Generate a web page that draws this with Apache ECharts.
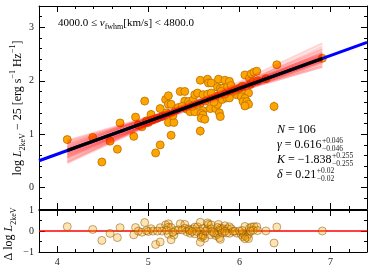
<!DOCTYPE html>
<html><head><meta charset="utf-8">
<script src="https://cdn.jsdelivr.net/npm/echarts@6/dist/echarts.min.js"></script>
<style>html,body{margin:0;padding:0;background:#fff}#c{width:374px;height:271px}</style>
</head><body><div id="c"></div>
<script>
// ---- data ----
const X_VALUES = [4.11,4.39,4.49,4.58,4.66,4.69,4.84,4.86,4.89,4.93,4.96,5.00,5.03,5.05,5.08,5.13,5.13,5.15,5.19,5.22,5.22,5.25,5.22,5.28,5.25,5.20,5.35,5.40,5.40,5.44,5.49,5.42,5.46,5.51,5.51,5.54,5.60,5.65,5.57,5.65,5.66,5.69,5.57,5.60,5.58,5.60,5.58,5.62,5.57,5.68,5.69,5.74,5.76,5.77,5.78,5.79,5.77,5.76,5.79,5.82,5.80,5.84,5.87,5.89,5.91,5.81,5.86,5.89,5.97,6.04,6.10,6.02,6.06,6.04,6.08,6.10,6.06,6.06,6.11,6.13,6.16,6.19,6.41,6.38,6.29,6.91,5.30,5.33,5.37,5.45,5.53,5.63,5.70,5.72,5.84,5.93,5.95,6.00,6.03,6.12,6.15,6.20,5.48,5.27,4.98,5.10];
const Y_VALUES = [0.90,0.94,0.48,0.87,0.72,1.21,0.96,1.32,1.17,1.14,1.62,1.22,1.37,1.27,0.65,0.80,1.48,1.33,1.65,1.72,1.56,1.56,1.22,1.22,0.98,1.40,1.80,1.80,1.62,1.61,1.64,1.47,1.42,1.42,1.74,1.77,1.74,1.75,2.01,2.03,1.96,1.96,1.58,1.44,1.39,1.36,1.30,1.28,1.06,1.48,1.77,1.48,1.56,1.72,1.40,1.33,2.03,1.88,1.86,1.86,1.80,2.01,1.89,1.99,1.91,1.65,1.68,1.68,1.74,1.77,1.77,1.70,1.67,1.61,1.61,1.56,1.53,2.11,2.05,2.13,2.16,2.18,2.30,1.52,2.04,2.42,1.45,1.50,1.52,1.55,1.55,1.62,1.65,1.60,1.75,1.80,1.82,1.86,1.90,1.93,1.98,2.00,1.52,1.35,1.25,1.30];
const Y_ERRORS = [0.03,0.03,0.03,0.03,0.03,0.03,0.03,0.03,0.03,0.03,
 0.03,0.03,0.03,0.03,0.03,0.04,0.05,0.03,0.03,0.03,
 0.03,0.04,0.03,0.03,0.03,0.03,0.03,0.03,0.03,0.03,
 0.03,0.03,0.03,0.03,0.03,0.03,0.03,0.03,0.03,0.03,
 0.03,0.03,0.03,0.04,0.03,0.03,0.06,0.03,0.09,0.03,
 0.03,0.03,0.03,0.03,0.06,0.05,0.03,0.03,0.03,0.03,
 0.03,0.03,0.03,0.03,0.03,0.03,0.03,0.03,0.03,0.03,
 0.03,0.03,0.03,0.03,0.03,0.05,0.03,0.03,0.03,0.03,
 0.03,0.03,0.03,0.09,0.03,0.03,0.03,0.03,0.03,0.03,
 0.03,0.03,0.03,0.03,0.03,0.03,0.03,0.03,0.03,0.03,
 0.03,0.03,0.03,0.03,0.03,0.03];
const GAMMA = 0.616, K_FIT = -1.838;
// posterior sample lines: y at the data x-range start and end
const SAMPLE_Y_START = [0.69,0.66,0.72,0.62,0.76,0.58,0.80,0.64,0.74,0.55,0.83,0.68,0.70,0.60,0.78,0.50,0.86,0.66,0.72,0.57,0.81,0.46,0.63,0.75,0.53,0.88,0.48,0.67,0.71,0.59];
const SAMPLE_Y_END   = [2.42,2.45,2.39,2.48,2.36,2.52,2.33,2.40,2.44,2.55,2.30,2.47,2.37,2.43,2.41,2.60,2.27,2.50,2.34,2.47,2.38,2.64,2.36,2.49,2.53,2.26,2.70,2.44,2.40,2.58];
const STAT_LABELS = ['N','\u03b3','K','\u03b4'];
const STAT_VALUES = ['106','0.616','\u22121.838','0.21'];
const STAT_UP = [null,'+0.046','+0.255','+0.02'];
const STAT_DN = [null,'\u22120.046','\u22120.255','\u22120.02'];
const X_TICKS = [4,5,6,7];
const Y_TICKS = [0,1,2,3];
const R_TICKS = [-1,0,1];
const X_MIN = 3.8, X_MAX = 7.4, Y_MIN = -0.4, Y_MAX = 3.4, R_MIN = -1, R_MAX = 1;

// ---- derived ----
const pts = X_VALUES.map((x,i)=>[x, Y_VALUES[i], Y_ERRORS[i]]);
const resid = X_VALUES.map((x,i)=>[x, Y_VALUES[i] - (GAMMA*x + K_FIT)]);
const xLo = Math.min(...X_VALUES), xHi = Math.max(...X_VALUES);
const fitAt = x => GAMMA*x + K_FIT;

const SERIF = 'Liberation Serif';
const fmt = v => String(v).replace('-', '\u2212');

function mkX(grid, pos, major, labels){
  return {type:'value', gridIndex:grid, position:pos, min:X_MIN, max:X_MAX,
    interval: major ? undefined : 0.2,
    axisLine:{show:major, onZero:false, lineStyle:{color:'#000', width:1}},
    axisTick:{show:true, inside:true, length: major?6:3, lineStyle:{color:'#000', width:1},
      customValues: major ? X_TICKS : undefined},
    axisLabel:{show:labels, customValues: labels ? X_TICKS : undefined, formatter:fmt,
      fontFamily:SERIF, fontSize:10, color:'#222', margin:5},
    splitLine:{show:false}, minorTick:{show:false}};
}
function mkY(grid, pos, major, labels, lo, hi, ticks, minorInt){
  return {type:'value', gridIndex:grid, position:pos, min:lo, max:hi,
    interval: major ? undefined : minorInt,
    axisLine:{show:major, onZero:false, lineStyle:{color:'#000', width:1}},
    axisTick:{show:true, inside:true, length: major?6:3, lineStyle:{color:'#000', width:1},
      customValues: major ? ticks : undefined},
    axisLabel:{show:labels, customValues: labels ? ticks : undefined, formatter:fmt,
      fontFamily:SERIF, fontSize:10, color:'#222', margin:5},
    splitLine:{show:false}};
}

const series = [];
series.push({type:'custom', xAxisIndex:0, yAxisIndex:0, z:2, silent:true,
  data: pts,
  renderItem:(params, api)=>{
    const x=api.value(0), y=api.value(1), e=api.value(2);
    const a=api.coord([x,y-e]), b=api.coord([x,y+e]);
    return {type:'line', shape:{x1:a[0],y1:a[1],x2:b[0],y2:b[1]}, style:{stroke:'#ffa500', lineWidth:1.2}};
  }});
series.push({type:'scatter', xAxisIndex:0, yAxisIndex:0, z:3, symbolSize:8, data: pts.map(p=>[p[0],p[1]]),
  itemStyle:{color:'#ffa500', borderColor:'#b86e00', borderWidth:0.8, opacity:1}});
SAMPLE_Y_START.forEach((ys,i)=>{
  series.push({type:'line', xAxisIndex:0, yAxisIndex:0, z:4, showSymbol:false, silent:true,
    data:[[xLo, ys],[xHi, SAMPLE_Y_END[i]]],
    lineStyle:{color:'rgba(255,0,0,0.17)', width:2.2}});
});
series.push({type:'line', xAxisIndex:0, yAxisIndex:0, z:5, showSymbol:false, silent:true,
  data:[[X_MIN, fitAt(X_MIN)],[X_MAX, fitAt(X_MAX)]], lineStyle:{color:'#0000ff', width:3}});
series.push({type:'line', xAxisIndex:0, yAxisIndex:0, z:6, showSymbol:false, silent:true,
  data:[[xLo, fitAt(xLo)],[xHi, fitAt(xHi)]], lineStyle:{color:'#000', width:3.2}});
series.push({type:'line', xAxisIndex:4, yAxisIndex:4, z:3, showSymbol:false, silent:true,
  data:[[X_MIN,0],[X_MAX,0]], lineStyle:{color:'#ff0000', width:1.5}});
series.push({type:'scatter', xAxisIndex:4, yAxisIndex:4, z:4, symbolSize:8, data:resid,
  itemStyle:{color:'rgba(255,165,0,0.38)', borderColor:'rgba(120,75,0,0.75)', borderWidth:0.8}});

const tf = 11;
const rn = {fontFamily:SERIF, fontSize:tf, lineHeight:15, color:'#222'};
const ri = {fontFamily:SERIF, fontSize:tf, lineHeight:15, fontStyle:'italic', color:'#222'};
const rs = {fontFamily:SERIF, fontSize:8, lineHeight:9, verticalAlign:'bottom', color:'#222'};

const yl = 12;
const yn = {fontFamily:SERIF, fontSize:yl, lineHeight:18, color:'#222'};
const yi = {fontFamily:SERIF, fontSize:yl, lineHeight:18, fontStyle:'italic', color:'#222'};
const ys = {fontFamily:SERIF, fontSize:8, lineHeight:10, verticalAlign:'bottom', color:'#222'};
const yp = {fontFamily:SERIF, fontSize:8, lineHeight:10, verticalAlign:'top', color:'#222'};

const SF = 12;
const sn = {fontFamily:SERIF, fontSize:SF, color:'#222'};
const si = {fontFamily:SERIF, fontSize:SF, fontStyle:'italic', color:'#222'};
const mctx = document.createElement('canvas').getContext('2d');
function tw(t, italic){ mctx.font = (italic?'italic ':'') + SF + 'px "' + SERIF + '"'; return mctx.measureText(t).width; }

const statG = [];
STAT_LABELS.forEach((lab,i)=>{
  const y = 130 + 15*i;
  statG.push({type:'text', x:277, y:y, style:{text:'{i|'+lab+'}{n| = '+STAT_VALUES[i]+'}', rich:{i:si, n:sn}, verticalAlign:'middle'}});
  if (STAT_UP[i]) {
    const x = 277 + tw(lab,true) + tw(' = '+STAT_VALUES[i],false) + 0.5;
    statG.push({type:'text', x:x, y:y-4, style:{text:STAT_UP[i], fontFamily:SERIF, fontSize:7.5, fill:'#222', verticalAlign:'middle'}});
    statG.push({type:'text', x:x, y:y+4.5, style:{text:STAT_DN[i], fontFamily:SERIF, fontSize:7.5, fill:'#222', verticalAlign:'middle'}});
  }
});

const option = {
  animation:false,
  backgroundColor:'#fff',
  grid:[{left:39, top:6, width:328, height:203},
        {left:39, top:210, width:328, height:42}],
  xAxis:[mkX(0,'bottom',true,false), mkX(0,'bottom',false,false), mkX(0,'top',true,false), mkX(0,'top',false,false),
         mkX(1,'bottom',true,true), mkX(1,'bottom',false,false), mkX(1,'top',true,false), mkX(1,'top',false,false)],
  yAxis:[mkY(0,'left',true,true,Y_MIN,Y_MAX,Y_TICKS,0.2), mkY(0,'left',false,false,Y_MIN,Y_MAX,Y_TICKS,0.2),
         mkY(0,'right',true,false,Y_MIN,Y_MAX,Y_TICKS,0.2), mkY(0,'right',false,false,Y_MIN,Y_MAX,Y_TICKS,0.2),
         mkY(1,'left',true,true,R_MIN,R_MAX,R_TICKS,0.5), mkY(1,'left',false,false,R_MIN,R_MAX,R_TICKS,0.5),
         mkY(1,'right',true,false,R_MIN,R_MAX,R_TICKS,0.5), mkY(1,'right',false,false,R_MIN,R_MAX,R_TICKS,0.5)],
  series: series,
  graphic:[
    {type:'text', x:58, y:23, style:{text:'{n|4000.0 \u2264 }{i|v}{s|fwhm}{n|[km/s] < 4800.0}', rich:{n:rn,i:ri,s:rs}, verticalAlign:'middle'}},
    {type:'text', x:18, y:108, rotation:Math.PI/2, style:{text:'{n|log }{i|L}{s|2keV}{n| \u2212 25 [erg s}{p|\u22121}{n| Hz}{p|\u22121}{n|]}', rich:{n:yn,i:yi,s:ys,p:yp}, align:'center', verticalAlign:'middle'}},
    {type:'text', x:9, y:234, rotation:Math.PI/2, style:{text:'{n|\u0394 log }{i|L}{s|2keV}', rich:{n:yn,i:yi,s:ys}, align:'center', verticalAlign:'middle'}},
    ...statG
  ]
};
echarts.init(document.getElementById('c'), null, {renderer:'canvas'}).setOption(option);
</script>
</body></html>
